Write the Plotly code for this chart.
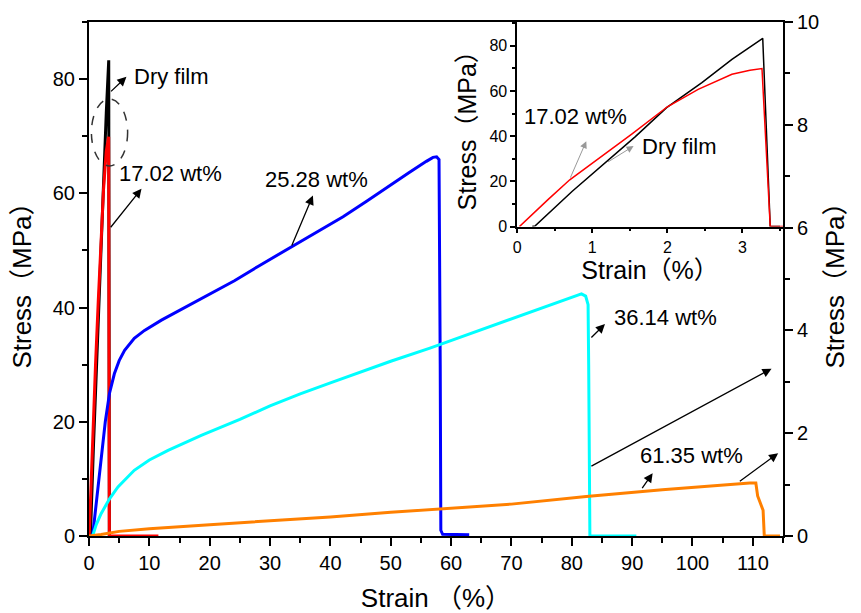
import plotly.graph_objects as go

# ---------------- data ----------------
dry_strain = [0.2, 0.24, 0.73, 1.17, 1.57, 1.99, 2.46, 2.86, 3.27, 3.31, 3.37, 3.5]
dry_stress = [0, 0.3, 15.5, 28, 39.7, 52.6, 63.7, 74, 83.3, 50, 0, 0]

red_strain = [0.03, 0.2, 0.41, 0.70, 1.08, 1.53, 2.0, 2.41, 2.86, 3.1, 3.26, 3.37, 4.0, 11.5]
red_stress = [0, 5.5, 11.9, 20.7, 30, 41, 53, 60.7, 67.4, 69.2, 69.9, 0, 0, 0]

blue_strain = [0.6, 1.7, 2.7, 3.4, 4.2, 5.0, 5.9, 7.5, 9.2, 12, 15.8, 20, 24.1, 28, 33.5, 38,
               42.1, 46, 49.8, 53, 55.9, 57.0, 57.6, 58.0, 58.2, 58.3, 58.6, 63]
blue_stress = [0, 10, 20, 25, 28.4, 30.7, 32.5, 34.6, 36, 37.8, 40.0, 42.4, 44.7, 47.2, 50.6, 53.3,
               55.9, 58.6, 61.4, 63.6, 65.6, 66.3, 66.4, 65.9, 30, 1, 0.3, 0.2]

cyan_strain = [0.6, 1.2, 2.0, 3.4, 4.8, 7.5, 10, 13.1, 18.6, 25, 30, 35, 40, 45, 50, 56.5,
               62, 68, 74, 79, 81.6, 82.3, 82.7, 82.8, 82.9, 83.0, 90.7]
cyan_stress = [0, 2, 3.9, 6.5, 8.6, 11.5, 13.3, 15, 17.6, 20.4, 22.8, 24.9, 26.8, 28.7, 30.6, 32.9,
               35, 37.3, 39.6, 41.5, 42.4, 42.0, 40.5, 30, 2, 0, 0]

# 61.35 wt% read on the right axis
orange_strain = [0, 2, 5, 10, 20, 30, 40, 50, 56.5, 70, 82.4, 95, 109.5, 110.5, 110.8, 111.2, 111.7, 111.9, 114.5]
orange_stress = [0, 0.03, 0.09, 0.14, 0.22, 0.29, 0.37, 0.46, 0.51, 0.62, 0.77, 0.9, 1.03, 1.03, 0.78,
                 0.66, 0.5, 0, 0]

x_ticks = [0, 10, 20, 30, 40, 50, 60, 70, 80, 90, 100, 110]
y_ticks = [0, 20, 40, 60, 80]
y2_ticks = [0, 2, 4, 6, 8, 10]
inset_x_ticks = [0, 1, 2, 3]
inset_y_ticks = [0, 20, 40, 60, 80]

FONT = "Liberation Sans, Arial, Noto Sans CJK SC, sans-serif"

fig = go.Figure()

# main curves
fig.add_trace(go.Scatter(x=dry_strain, y=dry_stress, mode="lines",
                         line=dict(color="black", width=3), xaxis="x", yaxis="y"))
fig.add_trace(go.Scatter(x=red_strain, y=red_stress, mode="lines",
                         line=dict(color="#ff0000", width=3), xaxis="x", yaxis="y"))
fig.add_trace(go.Scatter(x=blue_strain, y=blue_stress, mode="lines",
                         line=dict(color="#0000ff", width=3), xaxis="x", yaxis="y"))
fig.add_trace(go.Scatter(x=cyan_strain, y=cyan_stress, mode="lines",
                         line=dict(color="#00ffff", width=3), xaxis="x", yaxis="y"))
fig.add_trace(go.Scatter(x=orange_strain, y=orange_stress, mode="lines",
                         line=dict(color="#ff8000", width=3), xaxis="x", yaxis="y2"))

# inset curves
fig.add_trace(go.Scatter(x=dry_strain, y=dry_stress, mode="lines",
                         line=dict(color="black", width=1.5), xaxis="x3", yaxis="y3"))
fig.add_trace(go.Scatter(x=red_strain, y=red_stress, mode="lines",
                         line=dict(color="#ff0000", width=1.5), xaxis="x3", yaxis="y3"))

axis_common = dict(showline=True, linecolor="black", linewidth=2, ticks="outside",
                   tickcolor="black", tickwidth=2, ticklen=8, showgrid=False, zeroline=False,
                   tickfont=dict(size=20, color="black", family=FONT))

fig.update_layout(
    width=861, height=613,
    margin=dict(l=89, r=78, t=22, b=77),
    paper_bgcolor="white", plot_bgcolor="white",
    showlegend=False,
    font=dict(family=FONT, color="black"),
    xaxis=dict(**axis_common, range=[0, 115], tickvals=x_ticks, mirror=True, automargin=False,
               minor=dict(dtick=5, ticks="outside", ticklen=5, tickwidth=2, tickcolor="black"),
               title=dict(text="Strain （%）", font=dict(size=26, family=FONT), standoff=24)),
    yaxis=dict(**axis_common, range=[0, 90], tickvals=y_ticks, automargin=False,
               minor=dict(dtick=10, ticks="outside", ticklen=5, tickwidth=2, tickcolor="black"),
               title=dict(text="Stress（MPa）", font=dict(size=26, family=FONT), standoff=14)),
    yaxis2=dict(**axis_common, range=[0, 10], tickvals=y2_ticks, overlaying="y", side="right",
                anchor="x", automargin=False,
                minor=dict(dtick=1, ticks="outside", ticklen=5, tickwidth=2, tickcolor="black"),
                title=dict(text="Stress（MPa）", font=dict(size=26, family=FONT), standoff=8)),
    xaxis3=dict(domain=[0.617, 1.0], anchor="y3", range=[0, 3.54], tickvals=inset_x_ticks,
                showline=True, linecolor="black", linewidth=1.5, ticks="outside", tickcolor="black",
                tickwidth=1.5, ticklen=5, showgrid=False, zeroline=False,
                tickfont=dict(size=16, color="black", family=FONT),
                minor=dict(dtick=0.5, ticks="outside", ticklen=3, tickwidth=1.5, tickcolor="black"),
                title=dict(text="Strain（%）", font=dict(size=25, family=FONT), standoff=6)),
    yaxis3=dict(domain=[0.602, 1.0], anchor="x3", range=[0, 90.5], tickvals=inset_y_ticks,
                showline=True, linecolor="black", linewidth=1.5, ticks="outside", tickcolor="black",
                tickwidth=1.5, ticklen=5, showgrid=False, zeroline=False,
                tickfont=dict(size=16, color="black", family=FONT),
                minor=dict(dtick=10, ticks="outside", ticklen=3, tickwidth=1.5, tickcolor="black"),
                title=dict(text="Stress（MPa）", font=dict(size=25, family=FONT), standoff=6)),
)

# dashed ellipse around dry film / 17.02 peaks
fig.add_shape(type="circle", xref="x", yref="y", x0=0.4, x1=6.4, y0=64.8, y1=76.5,
              line=dict(color="#333333", width=1.5, dash="dash"))

ann = []


def text(x, y, s, xref="x", yref="y", size=22):
    ann.append(dict(x=x, y=y, xref=xref, yref=yref, text=s, showarrow=False,
                    xanchor="left", yanchor="middle", font=dict(size=size, color="black", family=FONT)))


def arrow(x0, y0, x1, y1, xref="x", yref="y", color="black", width=1.3):
    ann.append(dict(x=x1, y=y1, ax=x0, ay=y0, xref=xref, yref=yref, axref=xref, ayref=yref,
                    text="", showarrow=True, arrowhead=2, arrowsize=1.4, arrowwidth=width,
                    arrowcolor=color, startstandoff=0, standoff=0))


text(7.2, 80.5, "Dry film")
arrow(3.4, 77.6, 6.2, 80.4)
text(4.7, 63.4, "17.02 wt%")
arrow(3.4, 53.8, 8.7, 60.8)
text(28.8, 62.5, "25.28 wt%")
arrow(33.5, 50.6, 37.1, 59.6)
text(86.6, 38.2, "36.14 wt%")
arrow(83.0, 34.5, 85.5, 37.1)
arrow(83.0, 12.1, 113.1, 29.3)
text(91.0, 14.1, "61.35 wt%")
arrow(91.5, 8.1, 93.4, 11.0)
arrow(107.6, 9.4, 114.2, 14.5)

# inset annotations
text(0.06, 48.9, "17.02 wt%", xref="x3", yref="y3")
arrow(0.70, 21.0, 0.92, 37.8, xref="x3", yref="y3", color="#999999", width=1)
text(1.64, 35.6, "Dry film", xref="x3", yref="y3")
arrow(1.19, 28.2, 1.55, 35.6, xref="x3", yref="y3", color="#999999", width=1)

fig.update_layout(annotations=ann)

fig.write_html("out.html")
